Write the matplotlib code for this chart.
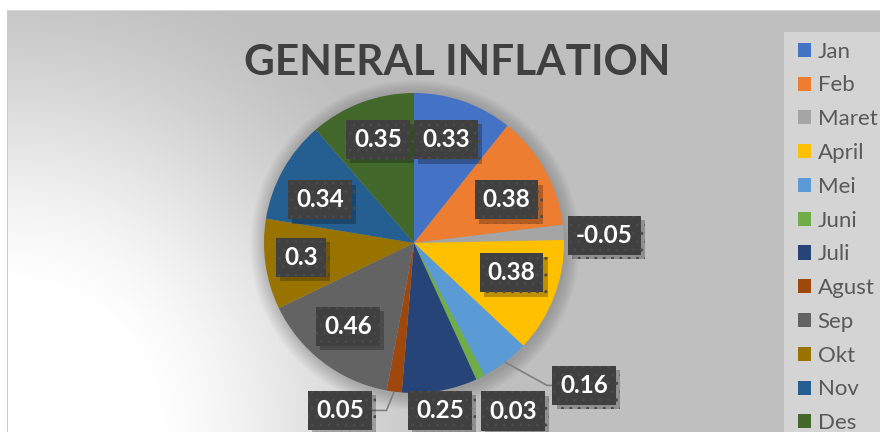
import numpy as np
import matplotlib
matplotlib.use("Agg")
import matplotlib.pyplot as plt
from matplotlib.patches import Circle, Rectangle
import matplotlib.patheffects as pe

# ---------------- data ----------------
months = ["Jan", "Feb", "Maret", "April", "Mei", "Juni", "Juli", "Agust",
          "Sep", "Okt", "Nov", "Des"]
inflation = [0.33, 0.38, -0.05, 0.38, 0.16, 0.03, 0.25, 0.05, 0.46, 0.3, 0.34, 0.35]
colors = ["#4472C4", "#ED7D31", "#A5A5A5", "#FFC000", "#5B9BD5", "#70AD47",
          "#264478", "#9E480E", "#636363", "#997300", "#255E91", "#43682B"]
title = "GENERAL INFLATION"

# ---------------- layout ----------------
W, H = 880, 432
CX, CY, R = 414, 189, 150          # pie centre / radius in pixel units
# label placement: (radius factor, angle clockwise from 12 o'clock)
label_polar = [(0.72, 17.2), (0.68, 65), (1.27, 87.6), (0.68, 107),
               (1.48, 129.9), (1.30, 149.5), (1.13, 171.2), (1.22, 203.8),
               (0.71, 218.5), (0.76, 262.9), (0.69, 294.6), (0.73, 340.8)]
leader_angle = {4: -29, 7: 67.6}    # labels with leader lines

fig = plt.figure(figsize=(W / 100, H / 100), dpi=100)
fig.patch.set_facecolor("white")

# ---------------- background ----------------
bg = fig.add_axes([0, 0, 1, 1])
bg.set_axis_off()
yy, xx = np.mgrid[0:H, 0:W]
d = np.hypot(xx - 7, yy - H)
t = np.clip((d - 150) / 330, 0, 1)
t = t * t * (3 - 2 * t) * 0.5 + t * 0.5
val = 255 - 64 * t
img = np.dstack([val, val, val]) / 255.0
img[:10, :, :] = 1.0
img[:, :7, :] = 1.0
img[10, 7:, :] = 0.85
img[10:, 7, :] = 0.80
bg.imshow(img, extent=(0, W, 0, H), origin="upper", aspect="auto", zorder=0)
bg.set_xlim(0, W)
bg.set_ylim(0, H)

# legend background
bg.add_patch(Rectangle((784, 0), W - 784, H - 32, facecolor="#d4d4d4",
                       edgecolor="none", zorder=1))

# ---------------- pie ----------------
ax = fig.add_axes([0, 0, 1, 1])
ax.patch.set_alpha(0)
values = [abs(v) for v in inflation]

# soft shadow around the pie
for k in range(1, 16):
    ax.add_patch(Circle((CX + 1, CY - 2), R + k, facecolor="black",
                        edgecolor="none", alpha=0.013, zorder=0))

wedges, _ = ax.pie(values, colors=colors, startangle=90, counterclock=False,
                   center=(CX, CY), radius=R,
                   wedgeprops=dict(linewidth=0, zorder=2))
ax.set_xlim(0, W)
ax.set_ylim(0, H)
ax.set_aspect("equal")
ax.set_axis_off()

font_lbl = dict(family="Lato", weight="bold", size=17.5)
PAD = "square,pad=0.33"

for i, (v, (rf, ang)) in enumerate(zip(inflation, label_polar)):
    a = np.deg2rad(ang)
    x = CX + rf * R * np.sin(a)
    y = CY + rf * R * np.cos(a)
    txt = f"{v:g}"
    w = wedges[i]
    mid = np.deg2rad((w.theta1 + w.theta2) / 2)
    if i in leader_angle:
        xy = (CX + R * np.cos(mid), CY + R * np.sin(mid))
        arrow = dict(arrowstyle="-", color="#7f7f7f", lw=1.2, shrinkA=0,
                     shrinkB=0,
                     connectionstyle=f"angle,angleA=0,angleB={leader_angle[i]},rad=0")
    else:
        xy = (x, y)
        arrow = None
    ann = ax.annotate(txt, xy=xy, xytext=(x, y), ha="center", va="center",
                      color="white", zorder=5, **font_lbl, arrowprops=arrow,
                      bbox=dict(boxstyle=PAD, fc="#404040",
                                ec="#4a4a4a", lw=0, hatch=".."))
    ann.get_bbox_patch().set_path_effects([
        pe.SimplePatchShadow(offset=(3, -3), shadow_rgbFace="black", alpha=0.25),
        pe.Normal()])

# ---------------- title ----------------
fig.text(457 / W, 1 - 75 / H, title, ha="center", va="baseline",
         family="Lato", weight="bold", size=30.5, color="#404040")

# ---------------- legend ----------------
leg = fig.legend(wedges, months, loc="upper left",
                 bbox_to_anchor=(791 / W, 1 - 35 / H),
                 frameon=False, prop=dict(family="Lato", size=16),
                 handlelength=0.6, handleheight=0.6, handletextpad=0.3,
                 labelspacing=0.62, borderpad=0.3, borderaxespad=0)
for txt in leg.get_texts():
    txt.set_color("#595959")

fig.savefig("out.png", dpi=100, facecolor="white")
